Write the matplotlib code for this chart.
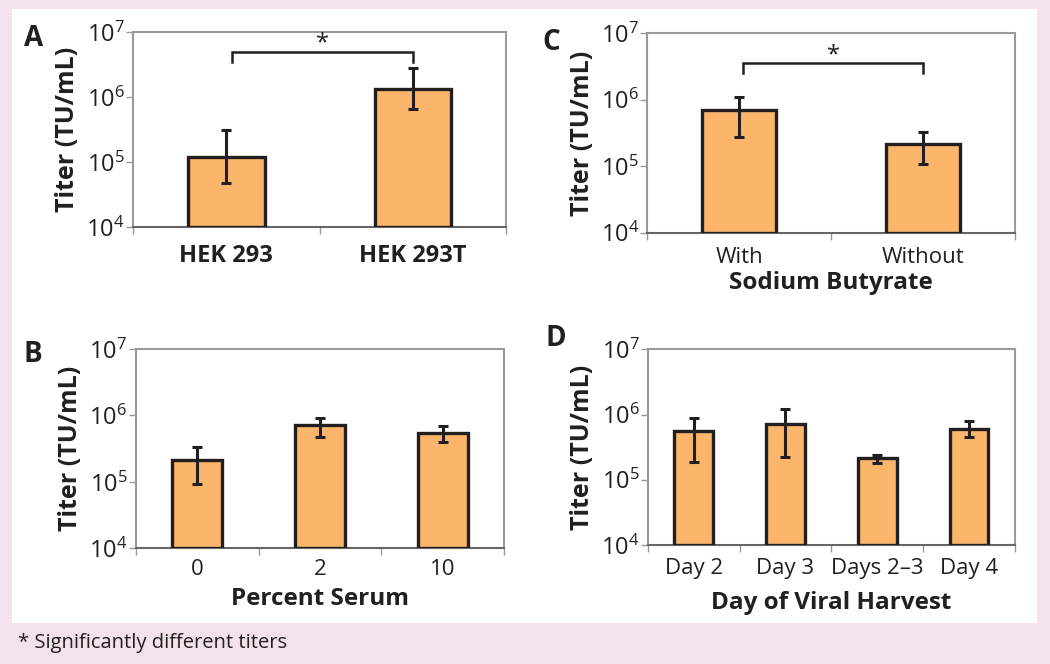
import numpy as np
import matplotlib
matplotlib.use("Agg")
import matplotlib.pyplot as plt
from matplotlib.patches import Rectangle

plt.rcParams['font.family'] = ['Open Sans', 'DejaVu Sans']
plt.rcParams['mathtext.fontset'] = 'custom'
plt.rcParams['mathtext.rm'] = 'Open Sans'

# Data (titer, TU/mL) with error bar low / high ends
a_labels = ['HEK 293', 'HEK 293T']
a_vals = [1.2e5, 1.35e6]
a_lo = [4.8e4, 6.6e5]
a_hi = [3.1e5, 2.8e6]

b_labels = ['0', '2', '10']
b_vals = [2.16e5, 7.1e5, 5.45e5]
b_lo = [9.4e4, 4.7e5, 3.95e5]
b_hi = [3.4e5, 9.3e5, 6.9e5]

c_labels = ['With', 'Without']
c_vals = [7.1e5, 2.17e5]
c_lo = [2.8e5, 1.07e5]
c_hi = [1.1e6, 3.25e5]

d_labels = ['Day 2', 'Day 3', 'Days 2\u20133', 'Day 4']
d_vals = [5.66e5, 7.1e5, 2.14e5, 6.08e5]
d_lo = [1.88e5, 2.26e5, 1.79e5, 4.49e5]
d_hi = [8.96e5, 1.2e6, 2.38e5, 8.07e5]

PINK = '#f3e1ee'
BAR = '#fbb66b'
DARK = '#231f20'
GRAY = '#9a9a9a'

fig = plt.figure(figsize=(10.5, 6.64), dpi=100)
fig.patch.set_facecolor(PINK)
# white panel behind everything
fig.patches.append(Rectangle((12 / 1050, 1 - 623 / 664), (1037 - 12) / 1050, (623 - 9) / 664,
                             transform=fig.transFigure, facecolor='white', edgecolor='none',
                             zorder=-10))


def panel(rect, labels, vals, lo, hi, letter, letter_xy, xlabel=None, bold_ticks=False,
          width=0.41, tpad=8, lpad=0):
    ax = fig.add_axes(rect)
    ax.set_facecolor('white')
    x = np.arange(len(vals))
    vals = np.array(vals)
    yerr = [vals - np.array(lo), np.array(hi) - vals]
    ax.bar(x, vals - 1e4, width=width, bottom=1e4, color=BAR, edgecolor=DARK, linewidth=2.4, zorder=3)
    ax.errorbar(x, vals, yerr=yerr, fmt='none', ecolor=DARK, elinewidth=2.2, capsize=3.5,
                capthick=2.2, zorder=4)
    ax.set_yscale('log')
    ax.set_ylim(1e4, 1e7)
    ax.set_xlim(-0.5, len(vals) - 0.5)
    ax.set_yticks([1e4, 1e5, 1e6, 1e7])
    ax.set_yticklabels([r'$\mathregular{10^{%d}}$' % p for p in [4, 5, 6, 7]], fontsize=17, color=DARK)
    ax.yaxis.set_minor_locator(matplotlib.ticker.NullLocator())
    ax.tick_params(axis='y', direction='out', length=5, width=1, color=GRAY, pad=1)
    ax.set_xticks(x)
    ax.set_xticks(np.arange(len(vals) + 1) - 0.5, minor=True)
    ax.tick_params(axis='x', which='major', length=0, pad=tpad)
    ax.tick_params(axis='x', which='minor', direction='out', length=5, width=1, color=GRAY)
    if bold_ticks:
        ax.set_xticklabels(labels, fontsize=17, fontweight='bold', color=DARK)
    else:
        ax.set_xticklabels(labels, fontsize=16, color=DARK)
    for s in ['top', 'right', 'left']:
        ax.spines[s].set_color(GRAY)
        ax.spines[s].set_linewidth(1.5)
    ax.spines['bottom'].set_color('#666666')
    ax.spines['bottom'].set_linewidth(1.5)
    ax.set_ylabel('Titer (TU/mL)', fontsize=18, fontweight='bold', color=DARK)
    ax.yaxis.set_label_coords(-0.143, 0.5)
    if xlabel:
        ax.set_xlabel(xlabel, fontsize=17.5, fontweight='bold', color=DARK, labelpad=lpad)
    fig.text(letter_xy[0] / 1050, 1 - letter_xy[1] / 664, letter, fontsize=20, fontweight='bold',
             color=DARK, ha='left', va='center')
    return ax


def bracket(ax, x1, x2, y, drop):
    ax.plot([x1, x1, x2, x2], [y / drop, y, y, y / drop], color=DARK, lw=1.8, zorder=5,
            solid_joinstyle='miter')
    ax.annotate('*', xy=((x1 + x2) / 2, y), xytext=(0, -3), textcoords='offset points',
                ha='center', va='bottom', fontsize=17, color=DARK)


axA = panel([0.1267, 0.6581, 0.3552, 0.2937], a_labels, a_vals, a_lo, a_hi, 'A', (24, 38),
            bold_ticks=True, tpad=12)
bracket(axA, 0.03, 1.0, 5.0e6, 1.43)

axC = panel([0.6165, 0.6495, 0.3502, 0.3003], c_labels, c_vals, c_lo, c_hi, 'C', (542, 43),
            xlabel='Sodium Butyrate', width=0.40, tpad=10.5, lpad=2)
bracket(axC, 0.02, 1.0, 3.56e6, 1.42)

axB = panel([0.1292, 0.1742, 0.3511, 0.3002], b_labels, b_vals, b_lo, b_hi, 'B', (24, 354),
            xlabel='Percent Serum', tpad=8, lpad=4.7)

axD = panel([0.6169, 0.1792, 0.3498, 0.2947], d_labels, d_vals, d_lo, d_hi, 'D', (546, 338),
            xlabel='Day of Viral Harvest', width=0.42, tpad=9, lpad=9)

fig.text(18 / 1050, 1 - 643 / 664, '* Significantly different titers', fontsize=14.5,
         color=DARK, ha='left', va='center')

fig.savefig('out.png', dpi=100, facecolor=PINK)
